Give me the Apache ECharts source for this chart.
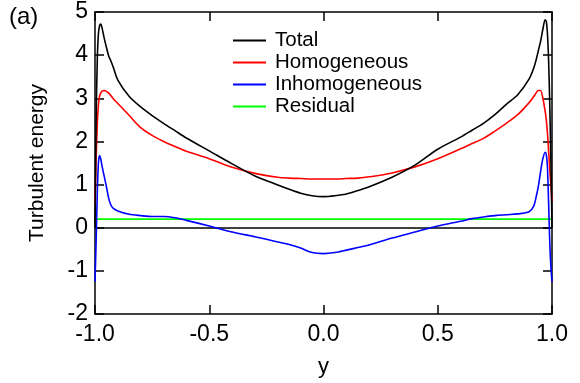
<!DOCTYPE html>
<html>
<head>
<meta charset="utf-8">
<script src="https://cdn.jsdelivr.net/npm/echarts@6/dist/echarts.min.js"></script>
<style>
  html, body { margin: 0; padding: 0; background: #fff; }
  #main { width: 580px; height: 383px; }
</style>
</head>
<body>
<div id="main"></div>
<script>
// wall-normal position y
const yGrid = [-1, -0.995, -0.99, -0.985, -0.98, -0.975, -0.97, -0.96, -0.95, -0.94, -0.93, -0.92, -0.9,
  -0.85, -0.8, -0.75, -0.7, -0.65, -0.6, -0.5, -0.4, -0.3, -0.2, -0.15, -0.1, -0.05,
  0,
  0.05, 0.1, 0.15, 0.2, 0.3, 0.4, 0.5, 0.6, 0.65, 0.7, 0.75, 0.8, 0.85,
  0.9, 0.92, 0.93, 0.94, 0.95, 0.96, 0.97, 0.975, 0.98, 0.985, 0.99, 0.995, 1];

const total = [0, 2.5, 3.9, 4.5, 4.68, 4.72, 4.65, 4.4, 4.18, 3.98, 3.86, 3.72, 3.42,
  3.04, 2.8, 2.6, 2.42, 2.25, 2.08, 1.78, 1.48, 1.2, 0.99, 0.89, 0.8, 0.74,
  0.72,
  0.74, 0.78, 0.86, 0.95, 1.17, 1.45, 1.82, 2.1, 2.26, 2.42, 2.62, 2.86, 3.08,
  3.45, 3.7, 3.88, 4.1, 4.32, 4.6, 4.82, 4.78, 4.5, 3.9, 2.9, 1.6, 0];

const homogeneous = [0.55, 1.6, 2.4, 2.85, 3.05, 3.12, 3.16, 3.18, 3.16, 3.12, 3.06, 2.99, 2.88,
  2.6, 2.32, 2.14, 2.0, 1.88, 1.77, 1.6, 1.4, 1.26, 1.17, 1.15, 1.14, 1.13,
  1.13,
  1.13, 1.14, 1.15, 1.18, 1.27, 1.41, 1.6, 1.83, 1.95, 2.07, 2.24, 2.42, 2.62,
  2.9, 3.04, 3.12, 3.18, 3.18, 3.0, 2.7, 2.5, 2.2, 1.8, 1.35, 1.0, 0.6];

const inhomogeneous = [-1.25, -0.3, 0.8, 1.5, 1.67, 1.6, 1.45, 1.2, 0.95, 0.68, 0.52, 0.45, 0.39,
  0.31, 0.28, 0.26, 0.26, 0.23, 0.17, 0.04, -0.1, -0.21, -0.33, -0.39, -0.47, -0.575,
  -0.6,
  -0.575, -0.52, -0.46, -0.4, -0.24, -0.1, 0.04, 0.15, 0.21, 0.25, 0.28, 0.3, 0.32,
  0.37, 0.5, 0.7, 0.95, 1.3, 1.6, 1.75, 1.7, 1.4, 0.6, -0.3, -0.9, -1.25];

const residual = yGrid.map(() => 0.2);

const seriesNames = ['Total', 'Homogeneous', 'Inhomogeneous', 'Residual'];
const seriesColors = ['#000000', '#ff0000', '#0000ff', '#00ff00'];
const seriesValues = [total, homogeneous, inhomogeneous, residual];

const font = 'Liberation Sans, Arial, Helvetica, sans-serif';

const chart = echarts.init(document.getElementById('main'));

const pairs = vals => yGrid.map((y, i) => [y, vals[i]]);

const xCommon = { type: 'value', min: -1, max: 1, interval: 0.5, splitLine: { show: false },
  axisLine: { onZero: false, lineStyle: { color: '#000', width: 1.5 } },
  axisTick: { inside: true, length: 9, lineStyle: { color: '#000', width: 1.5 } } };
const yCommon = { type: 'value', min: -2, max: 5, interval: 1, splitLine: { show: false },
  axisLine: { onZero: false, lineStyle: { color: '#000', width: 1.5 } },
  axisTick: { inside: true, length: 9, lineStyle: { color: '#000', width: 1.5 } } };

const option = {
  animation: false,
  backgroundColor: '#fff',
  grid: { left: 95, right: 28, top: 12, bottom: 68 },
  xAxis: [
    Object.assign({}, xCommon, {
      position: 'bottom', name: 'y', nameLocation: 'middle', nameGap: 42,
      nameTextStyle: { color: '#000', fontSize: 22, fontFamily: font },
      axisLabel: { color: '#000', fontSize: 23, fontFamily: font, margin: 9,
        formatter: v => v.toFixed(1) }
    }),
    Object.assign({}, xCommon, { position: 'top', axisLabel: { show: false } })
  ],
  yAxis: [
    Object.assign({}, yCommon, {
      position: 'left', name: 'Turbulent energy', nameLocation: 'middle', nameGap: 47,
      nameTextStyle: { color: '#000', fontSize: 21, fontFamily: font },
      axisLabel: { color: '#000', fontSize: 23, fontFamily: font, margin: 7 }
    }),
    Object.assign({}, yCommon, { position: 'right', axisLabel: { show: false } })
  ],
  legend: {
    orient: 'vertical', left: 228, top: 25, itemWidth: 33, itemHeight: 2, itemGap: 1,
    icon: 'rect', data: seriesNames,
    textStyle: { color: '#000', fontSize: 20.5, fontFamily: font, lineHeight: 20, padding: [0, 0, 0, 4] }
  },
  graphic: [
    { type: 'text', left: 9, top: 5, style: { text: '(a)', fill: '#000', fontSize: 24, fontFamily: font } }
  ],
  series: seriesNames.map((name, i) => ({
    name, type: 'line', data: pairs(seriesValues[i]), showSymbol: false, smooth: 0.3,
    lineStyle: { color: seriesColors[i], width: 1.6 }, itemStyle: { color: seriesColors[i] },
    z: 10 - i,
    markLine: i === 0 ? { silent: true, symbol: 'none', label: { show: false },
      lineStyle: { color: '#000', type: 'solid', width: 1.5 }, data: [{ yAxis: 0 }] } : undefined
  }))
};

chart.setOption(option);
</script>
</body>
</html>
